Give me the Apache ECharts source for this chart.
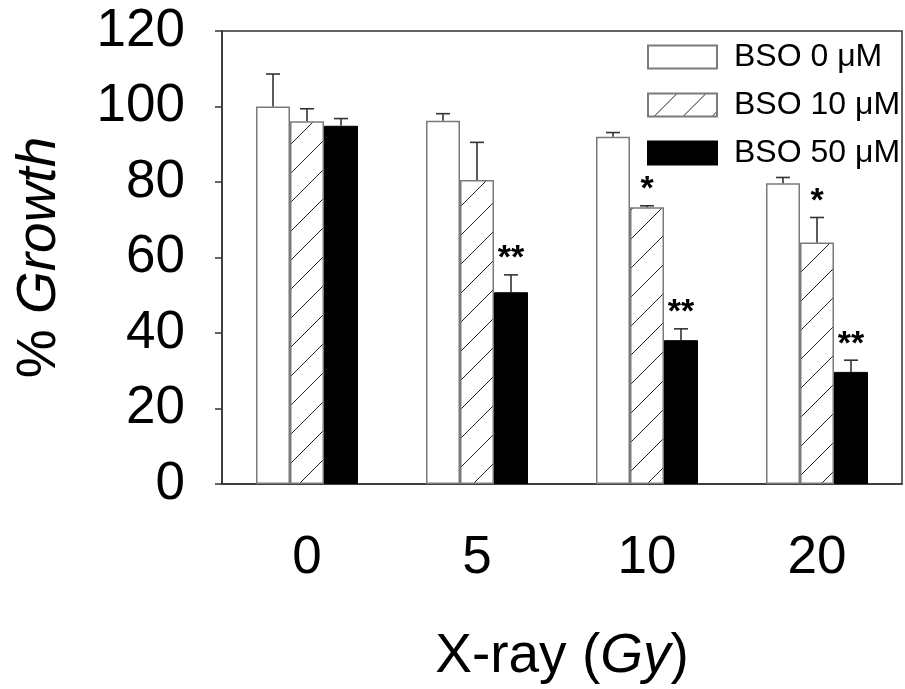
<!DOCTYPE html>
<html>
<head>
<meta charset="utf-8">
<script src="https://cdn.jsdelivr.net/npm/echarts@6/dist/echarts.min.js"></script>
<style>
  html, body { margin: 0; padding: 0; background: #fff; }
  #chart { width: 905px; height: 689px; }
</style>
</head>
<body>
<div id="chart"></div>
<script>
// X-ray dose groups
var doses = ['0', '5', '10', '20'];
var seriesNames = ['BSO 0 \u03bcM', 'BSO 10 \u03bcM', 'BSO 50 \u03bcM'];

// % growth (mean) and upper error (SE)
var bso0 = [100, 96.2, 92.0, 79.7];
var bso0Err = [8.6, 1.9, 1.1, 1.5];
var bso10 = [96.1, 80.5, 73.3, 64.0];
var bso10Err = [3.3, 10.0, 0.4, 6.6];
var bso50 = [94.9, 50.8, 38.1, 29.7];
var bso50Err = [1.9, 4.6, 3.0, 3.1];

// significance marks
var bso0Marks = ['', '', '', ''];
var bso10Marks = ['', '', '*', '*'];
var bso50Marks = ['', '**', '**', '**'];

var yTicks = [0, 20, 40, 60, 80, 100, 120];

var FONT = 'Liberation Sans';
var BAR_W = 34;

// diagonal hatch pattern
function hatch() {
  var c = document.createElement('canvas');
  c.width = 29; c.height = 29;
  var ctx = c.getContext('2d');
  ctx.fillStyle = '#fff';
  ctx.fillRect(0, 0, 29, 29);
  ctx.strokeStyle = '#222';
  ctx.lineWidth = 1;
  ctx.beginPath();
  ctx.moveTo(-1, 30);
  ctx.lineTo(30, -1);
  ctx.stroke();
  return c;
}

var means = [bso0, bso10, bso50];
var errs = [bso0Err, bso10Err, bso50Err];
var marks = [bso0Marks, bso10Marks, bso50Marks];

var errData = [];
for (var s = 0; s < 3; s++) {
  for (var i = 0; i < doses.length; i++) {
    errData.push([i, means[s][i], errs[s][i], s, marks[s][i]]);
  }
}

var myChart = echarts.init(document.getElementById('chart'));

var option = {
  animation: false,
  backgroundColor: '#fff',
  grid: {
    left: 222,
    right: 3,
    top: 31,
    bottom: 205,
    show: true,
    borderColor: '#333',
    borderWidth: 1.5
  },
  legend: {
    data: seriesNames,
    icon: 'rect',
    orient: 'vertical',
    left: 642,
    top: 36,
    itemWidth: 69,
    itemHeight: 23,
    itemGap: 16,
    textStyle: {
      fontFamily: FONT,
      fontSize: 32,
      color: '#000',
      lineHeight: 23,
      padding: [0, 0, 0, 12]
    }
  },
  xAxis: {
    type: 'category',
    data: doses,
    name: 'X-ray ({i|Gy})',
    nameLocation: 'middle',
    nameGap: 145,
    nameTextStyle: {
      fontFamily: FONT,
      fontSize: 55,
      color: '#000',
      rich: {
        i: { fontFamily: FONT, fontSize: 55, fontStyle: 'italic', color: '#000' }
      }
    },
    axisLine: { lineStyle: { color: '#333', width: 1.5 } },
    axisTick: { alignWithLabel: true, length: 7, lineStyle: { color: '#333', width: 1.5 } },
    axisLabel: { fontFamily: FONT, fontSize: 53, color: '#000', margin: 48 }
  },
  yAxis: {
    type: 'value',
    min: yTicks[0],
    max: yTicks[yTicks.length - 1],
    interval: 20,
    name: '{n|% }{i|Growth}',
    nameLocation: 'middle',
    nameGap: 155,
    nameRotate: 90,
    nameTextStyle: {
      rich: {
        n: { fontFamily: FONT, fontSize: 55, color: '#000' },
        i: { fontFamily: FONT, fontSize: 55, fontStyle: 'italic', color: '#000' }
      }
    },
    axisLine: { show: true, lineStyle: { color: '#333', width: 1.5 } },
    axisTick: { show: true, length: 7, lineStyle: { color: '#333', width: 1.5 } },
    splitLine: { show: false },
    axisLabel: { fontFamily: FONT, fontSize: 53, color: '#000', margin: 37 }
  },
  series: [
    {
      name: seriesNames[0],
      type: 'bar',
      data: bso0,
      barWidth: BAR_W,
      barGap: '0%',
      itemStyle: { color: '#fff', borderColor: '#7a7a7a', borderWidth: 1.5 }
    },
    {
      name: seriesNames[1],
      type: 'bar',
      data: bso10,
      barWidth: BAR_W,
      barGap: '0%',
      itemStyle: {
        color: { image: hatch(), repeat: 'repeat' },
        borderColor: '#7a7a7a',
        borderWidth: 1.5
      }
    },
    {
      name: seriesNames[2],
      type: 'bar',
      data: bso50,
      barWidth: BAR_W,
      barGap: '0%',
      itemStyle: { color: '#000', borderColor: '#000', borderWidth: 1 }
    },
    {
      name: 'err',
      type: 'custom',
      z: 5,
      data: errData,
      encode: { x: 0, y: 1 },
      renderItem: function (params, api) {
        var base = api.coord([api.value(0), api.value(1)]);
        var top = api.coord([api.value(0), api.value(1) + api.value(2)]);
        var x = base[0] + (api.value(3) - 1) * BAR_W;
        var mark = errData[params.dataIndex][4];
        var children = [
          {
            type: 'line',
            shape: { x1: x, y1: base[1], x2: x, y2: top[1] },
            style: { stroke: '#333', lineWidth: 1.6 }
          },
          {
            type: 'line',
            shape: { x1: x - 7, y1: top[1], x2: x + 7, y2: top[1] },
            style: { stroke: '#333', lineWidth: 1.6 }
          }
        ];
        if (mark) {
          children.push({
            type: 'text',
            style: {
              text: mark,
              x: x,
              y: top[1] - 16,
              align: 'center',
              verticalAlign: 'middle',
              fontFamily: FONT,
              fontSize: 34,
              fontWeight: 'bold',
              fill: '#000'
            }
          });
        }
        return { type: 'group', children: children };
      }
    }
  ]
};

myChart.setOption(option);
</script>
</body>
</html>
